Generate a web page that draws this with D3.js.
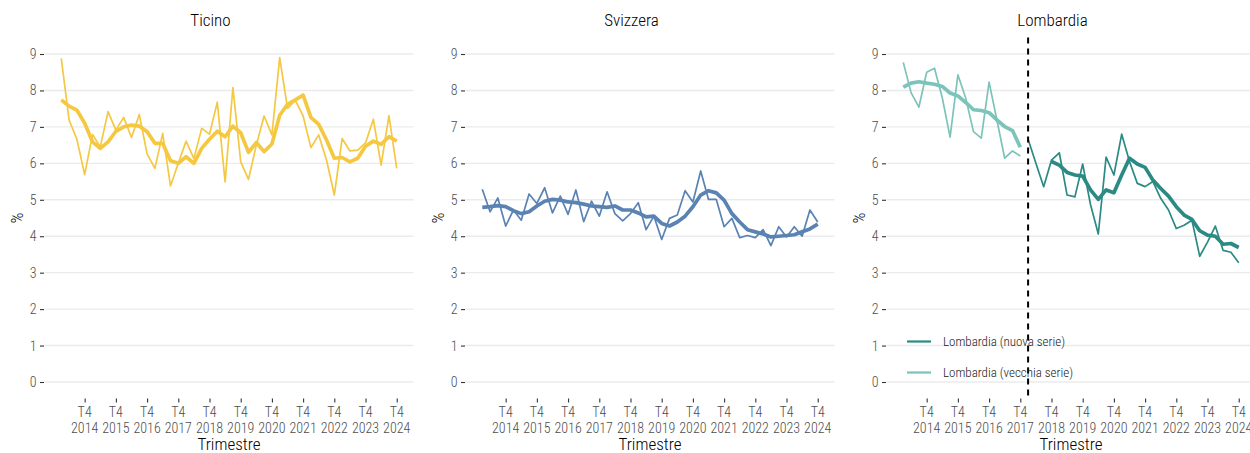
<!DOCTYPE html>
<html>
<head>
<meta charset="utf-8">
<script src="https://cdn.jsdelivr.net/npm/d3@7"></script>
<style>
  html, body { margin: 0; padding: 0; background: #fff; }
  svg { display: block; }
  text { font-family: "Roboto Condensed", "Liberation Sans Narrow", "Arial Narrow", sans-serif; font-weight: 300; }
</style>
</head>
<body>
<svg id="chart" width="1250" height="453"></svg>
<script>
// ---- DATA ----
const quarters = d3.range(2014, 2025).flatMap(y => ["T1", "T2", "T3", "T4"].map(q => q + " " + y));
const tickYears = ["2014","2015","2016","2017","2018","2019","2020","2021","2022","2023","2024"];
const yTicks = [0, 1, 2, 3, 4, 5, 6, 7, 8, 9];

const ticinoRaw = [8.88, 7.19, 6.66, 5.69, 6.79, 6.45, 7.42, 6.91, 7.26, 6.71, 7.34, 6.26, 5.86, 6.82, 5.38, 6.0,
  6.61, 6.13, 6.96, 6.80, 7.68, 5.49, 8.08, 6.04, 5.56, 6.5, 7.3, 6.78, 8.9, 7.51, 7.73, 7.3, 6.43, 6.78, 6.09, 5.13,
  6.68, 6.34, 6.36, 6.56, 7.21, 5.95, 7.31, 5.86];
const ticinoTrend = [7.74, 7.57, 7.46, 7.10, 6.59, 6.41, 6.59, 6.88, 7.0, 7.05, 7.02, 6.87, 6.55, 6.55, 6.07, 6.0,
  6.18, 6.0, 6.41, 6.66, 6.88, 6.73, 7.02, 6.84, 6.30, 6.57, 6.32, 6.53, 7.32, 7.62, 7.74, 7.87, 7.26, 7.07, 6.64, 6.14,
  6.16, 6.04, 6.14, 6.47, 6.61, 6.52, 6.73, 6.61];

const svizzeraRaw = [5.29, 4.67, 5.05, 4.28, 4.72, 4.44, 5.16, 4.90, 5.33, 4.64, 5.10, 4.60, 5.27, 4.40, 4.96, 4.55,
  5.22, 4.62, 4.42, 4.62, 4.92, 4.18, 4.55, 3.91, 4.49, 4.58, 5.25, 4.94, 5.79, 5.01, 5.01, 4.26, 4.49, 3.96, 4.02, 3.96,
  4.18, 3.74, 4.26, 3.98, 4.26, 4.0, 4.72, 4.39];
const svizzeraTrend = [4.79, 4.81, 4.84, 4.81, 4.70, 4.62, 4.67, 4.83, 4.96, 5.01, 4.99, 4.94, 4.92, 4.88, 4.83, 4.81,
  4.79, 4.83, 4.72, 4.72, 4.64, 4.53, 4.55, 4.35, 4.28, 4.39, 4.55, 4.81, 5.13, 5.25, 5.19, 4.99, 4.62, 4.39, 4.18, 4.12,
  4.06, 3.98, 4.0, 4.02, 4.04, 4.12, 4.20, 4.33];

// Lombardia old series: 2014 T1 - 2017 T4
const lombOldRaw = [8.77, 7.94, 7.54, 8.50, 8.61, 7.8, 6.72, 8.43, 7.79, 6.87, 6.69, 8.23, 7.19, 6.14, 6.34, 6.20];
const lombOldTrend = [8.09, 8.20, 8.24, 8.20, 8.17, 8.11, 7.93, 7.85, 7.67, 7.47, 7.45, 7.39, 7.19, 7.01, 6.90, 6.44];
// Lombardia new series: 2018 T1 - 2024 T4 (trend from 2018 T4)
const lombNewRaw = [6.66, 6.0, 5.36, 6.09, 6.29, 5.13, 5.08, 5.98, 4.87, 4.06, 6.17, 5.68, 6.8, 6.05, 5.45, 5.36,
  5.5, 5.04, 4.72, 4.21, 4.30, 4.44, 3.45, 3.84, 4.28, 3.61, 3.56, 3.27];
const lombNewTrend = [6.05, 5.95, 5.75, 5.68, 5.65, 5.27, 5.01, 5.27, 5.19, 5.68, 6.14, 5.98, 5.89, 5.54, 5.31, 5.10,
  4.81, 4.58, 4.46, 4.15, 4.03, 4.0, 3.78, 3.80, 3.69];
const breakQuarter = "T1 2018";

const colTicino = "#f5c842";
const colSvizzera = "#5a83b3";
const colLombNew = "#2b8a84";
const colLombOld = "#7cc4ba";

// ---- LAYOUT ----
const svg = d3.select("#chart");
const panelStep = 421;
const n = quarters.length;
const x = d3.scaleLinear().domain([-(n - 1) * 0.05, (n - 1) * 1.05]).range([44.5, 413.5]);
const y = d3.scaleLinear().domain([0, 9]).range([382, 54]);
const panelTop = y(9.45), panelBottom = y(-0.45);

const thin = 1.7, thick = 3.7;

const panels = [
  { title: "Ticino", series: [
      { start: 0, values: ticinoRaw, color: colTicino, w: thin },
      { start: 0, values: ticinoTrend, color: colTicino, w: thick } ] },
  { title: "Svizzera", series: [
      { start: 0, values: svizzeraRaw, color: colSvizzera, w: thin },
      { start: 0, values: svizzeraTrend, color: colSvizzera, w: thick } ] },
  { title: "Lombardia", series: [
      { start: 0, values: lombOldRaw, color: colLombOld, w: thin },
      { start: 0, values: lombOldTrend, color: colLombOld, w: thick },
      { start: quarters.indexOf(breakQuarter), values: lombNewRaw, color: colLombNew, w: thin },
      { start: quarters.indexOf("T4 2018"), values: lombNewTrend, color: colLombNew, w: thick } ],
    vline: breakQuarter,
    legend: [ { label: "Lombardia (nuova serie)", color: colLombNew },
              { label: "Lombardia (vecchia serie)", color: colLombOld } ] }
];

panels.forEach((p, i) => {
  const g = svg.append("g").attr("transform", `translate(${i * panelStep},0)`);

  // gridlines
  g.append("g").selectAll("line").data(yTicks).join("line")
    .attr("x1", x.range()[0]).attr("x2", x.range()[1])
    .attr("y1", d => y(d)).attr("y2", d => y(d))
    .attr("stroke", "#ebebeb").attr("stroke-width", 1.4);

  // y axis
  const yAxis = d3.axisLeft(y).tickValues(yTicks).tickSize(4).tickPadding(3.5);
  const ya = g.append("g").attr("transform", `translate(${x.range()[0] - 0.5},0)`).call(yAxis);
  ya.select(".domain").remove();
  ya.selectAll(".tick line").attr("stroke", "#333").attr("stroke-width", 1.1);
  ya.selectAll(".tick text").attr("fill", "#4d4d4d").attr("font-size", 14)
    .attr("font-family", null);

  // x axis
  const tickIdx = tickYears.map(yr => quarters.indexOf("T4 " + yr));
  const xAxis = d3.axisBottom(x).tickValues(tickIdx).tickSize(4).tickFormat(() => "");
  const xa = g.append("g").attr("transform", `translate(0,${panelBottom})`).call(xAxis);
  xa.select(".domain").remove();
  xa.selectAll(".tick line").attr("stroke", "#333").attr("stroke-width", 1.1);
  xa.selectAll(".tick text").remove();
  const tl = g.append("g");
  tickIdx.forEach((k, j) => {
    const t = tl.append("text").attr("x", x(k)).attr("text-anchor", "middle")
      .attr("fill", "#4d4d4d").attr("font-size", 14);
    t.append("tspan").attr("x", x(k)).attr("y", 417).text(quarters[k].split(" ")[0]);
    t.append("tspan").attr("x", x(k)).attr("y", 433).text(tickYears[j]);
  });

  // lines
  const line = d3.line().x(d => x(d.k)).y(d => y(d.v)).curve(d3.curveLinear);
  p.series.forEach(s => {
    g.append("path")
      .datum(s.values.map((v, j) => ({ k: s.start + j, v })))
      .attr("d", line).attr("fill", "none")
      .attr("stroke", s.color).attr("stroke-width", s.w)
      .attr("stroke-linejoin", "round").attr("stroke-linecap", "butt");
  });

  if (p.vline) {
    const vx = x(quarters.indexOf(p.vline));
    g.append("line").attr("x1", vx).attr("x2", vx).attr("y1", panelTop).attr("y2", panelBottom)
      .attr("stroke", "#000").attr("stroke-width", 2).attr("stroke-dasharray", "6,5");
  }

  if (p.legend) {
    const lg = g.append("g");
    p.legend.forEach((it, j) => {
      const ly = 341.5 + j * 31;
      lg.append("line").attr("x1", 65).attr("x2", 89).attr("y1", ly).attr("y2", ly)
        .attr("stroke", it.color).attr("stroke-width", 2.2);
      lg.append("text").attr("x", 101).attr("y", ly).attr("dy", "0.35em")
        .attr("font-size", 13).attr("fill", "#1a1a1a").text(it.label);
    });
  }

  // titles
  g.append("text").attr("x", 210.5).attr("y", 26).attr("text-anchor", "middle")
    .attr("font-size", 17).attr("fill", "#000").text(p.title);
  g.append("text").attr("x", (x.range()[0] + x.range()[1]) / 2).attr("y", 450)
    .attr("text-anchor", "middle").attr("font-size", 17).attr("fill", "#000").text("Trimestre");
  g.append("text").attr("transform", `translate(17,${(panelTop + panelBottom) / 2}) rotate(-90)`)
    .attr("text-anchor", "middle").attr("dy", "0.35em")
    .attr("font-size", 17).attr("fill", "#000").text("%");
});
</script>
</body>
</html>
